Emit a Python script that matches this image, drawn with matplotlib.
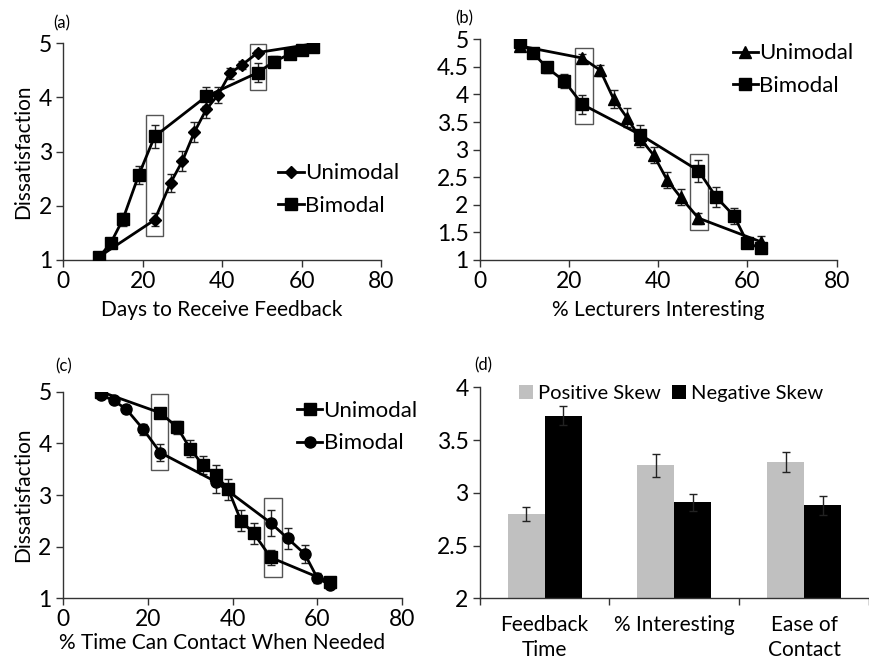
import matplotlib
matplotlib.use("Agg")
import matplotlib.pyplot as plt
from matplotlib.patches import Rectangle
from matplotlib.lines import Line2D
from matplotlib.ticker import FuncFormatter
import numpy as np

plt.rcParams['font.family'] = ['Lato', 'DejaVu Sans']

# ---------------- data ----------------
# Panel (a): Days to Receive Feedback
a_uni_x = [9, 23, 27, 30, 33, 36, 39, 42, 45, 49, 63]
a_uni_y = [1.06, 1.74, 2.42, 2.83, 3.36, 3.78, 4.05, 4.45, 4.60, 4.83, 4.99]
a_uni_e = [0.05, 0.12, 0.16, 0.18, 0.18, 0.16, 0.15, 0.10, 0.07, 0.05, 0.02]
a_bi_x = [9, 12, 15, 19, 23, 36, 49, 53, 57, 60, 63]
a_bi_y = [1.05, 1.32, 1.75, 2.57, 3.28, 4.02, 4.46, 4.66, 4.80, 4.88, 4.94]
a_bi_e = [0.05, 0.07, 0.12, 0.17, 0.21, 0.17, 0.18, 0.10, 0.07, 0.05, 0.03]
a_boxes = [(20.7, 25.2, 1.45, 3.68), (46.9, 51.0, 4.13, 4.99)]

# Panel (b): % Lecturers Interesting
b_uni_x = [9, 23, 27, 30, 33, 36, 39, 42, 45, 49, 63]
b_uni_y = [4.88, 4.66, 4.44, 3.92, 3.58, 3.20, 2.90, 2.45, 2.14, 1.76, 1.33]
b_uni_e = [0.05, 0.08, 0.10, 0.17, 0.17, 0.15, 0.15, 0.15, 0.15, 0.10, 0.10]
b_bi_x = [9, 12, 15, 19, 23, 36, 49, 53, 57, 60, 63]
b_bi_y = [4.96, 4.75, 4.49, 4.24, 3.82, 3.27, 2.62, 2.14, 1.80, 1.31, 1.21]
b_bi_e = [0.04, 0.05, 0.10, 0.13, 0.17, 0.17, 0.20, 0.18, 0.15, 0.07, 0.05]
b_boxes = [(21.4, 25.3, 3.47, 4.85), (47.1, 51.2, 1.54, 2.92)]

# Panel (c): % Time Can Contact When Needed
c_uni_x = [9, 23, 27, 30, 33, 36, 39, 42, 45, 49, 63]
c_uni_y = [5.00, 4.59, 4.31, 3.90, 3.58, 3.39, 3.11, 2.50, 2.26, 1.79, 1.31]
c_uni_e = [0.03, 0.07, 0.13, 0.17, 0.17, 0.20, 0.20, 0.20, 0.20, 0.15, 0.05]
c_bi_x = [9, 12, 15, 19, 23, 36, 49, 53, 57, 60, 63]
c_bi_y = [4.94, 4.83, 4.66, 4.27, 3.82, 3.26, 2.46, 2.16, 1.86, 1.39, 1.26]
c_bi_e = [0.03, 0.05, 0.07, 0.10, 0.17, 0.22, 0.25, 0.20, 0.18, 0.10, 0.05]
c_boxes = [(20.7, 24.9, 3.48, 4.95), (47.5, 51.6, 1.42, 2.94)]

# Panel (d): bars
d_categories = ["Feedback\nTime", "% Interesting", "Ease of\nContact"]
d_pos = [2.80, 3.26, 3.29]
d_pos_e = [0.07, 0.11, 0.095]
d_neg = [3.73, 2.91, 2.88]
d_neg_e = [0.09, 0.08, 0.09]

W, H = 869, 659
fig = plt.figure(figsize=(W / 100, H / 100), dpi=100)


def px_axes(l, r, t, b):
    return fig.add_axes([l / W, 1 - b / H, (r - l) / W, (b - t) / H])


FS = 14
fmt = FuncFormatter(lambda v, p: "%g" % v)


def style(ax):
    for s in ['top', 'right']:
        ax.spines[s].set_visible(False)
    for s in ['left', 'bottom']:
        ax.spines[s].set_linewidth(1.0)
        ax.spines[s].set_color('#333333')
    ax.tick_params(direction='out', length=5, width=1, labelsize=FS + 2.5, color='#333333', pad=3)
    ax.yaxis.set_major_formatter(fmt)


def line_panel(ax, ux, uy, ue, um, ums, bx, by, be, bm, bms, boxes, xlabel, ylabel,
               yticks, leg_xy, ulabel="Unimodal", blabel="Bimodal"):
    style(ax)
    ax.errorbar(ux, uy, yerr=ue, color='black', lw=2, marker=um, ms=ums,
                ecolor='#222222', elinewidth=1, capsize=3, capthick=1, zorder=3)
    ax.errorbar(bx, by, yerr=be, color='black', lw=2, marker=bm, ms=bms,
                ecolor='#222222', elinewidth=1, capsize=3, capthick=1, zorder=3)
    for (x0, x1, y0, y1) in boxes:
        ax.add_patch(Rectangle((x0, y0), x1 - x0, y1 - y0, fill=False,
                               edgecolor='#555555', lw=1.0, zorder=2))
    ax.set_xlim(0, 80)
    ax.set_ylim(yticks[0], yticks[-1])
    ax.set_xticks([0, 20, 40, 60, 80])
    ax.set_yticks(yticks)
    ax.set_xlabel(xlabel, fontsize=FS + 1, labelpad=6)
    if ylabel:
        ax.set_ylabel(ylabel, fontsize=FS + 1, labelpad=4)
    h = [Line2D([], [], color='black', lw=2, marker=um, ms=ums),
         Line2D([], [], color='black', lw=2, marker=bm, ms=bms)]
    ax.legend(h, [ulabel, blabel], loc='center left', bbox_to_anchor=leg_xy, frameon=False,
              fontsize=FS + 2, handlelength=1.15, handletextpad=0.05, borderpad=0,
              labelspacing=0.55)


# (a)
axa = px_axes(63.3, 381, 43.3, 260)
line_panel(axa, a_uni_x, a_uni_y, a_uni_e, 'D', 6, a_bi_x, a_bi_y, a_bi_e, 's', 9,
           a_boxes, "Days to Receive Feedback", "Dissatisfaction", [1, 2, 3, 4, 5],
           (0.641, 0.325))
fig.text(53 / W, 1 - 23 / H, "(a)", fontsize=12, va='center', ha='left')

# (b)
axb = px_axes(479.7, 836.7, 39.3, 260)
line_panel(axb, b_uni_x, b_uni_y, b_uni_e, '^', 8, b_bi_x, b_bi_y, b_bi_e, 's', 9,
           b_boxes, "% Lecturers Interesting", None, [1, 1.5, 2, 2.5, 3, 3.5, 4, 4.5, 5],
           (0.677, 0.863))
fig.text(455 / W, 1 - 18 / H, "(b)", fontsize=12, va='center', ha='left')

# (c)
axc = px_axes(62.7, 402.3, 391.7, 598.3)
line_panel(axc, c_uni_x, c_uni_y, c_uni_e, 's', 9, c_bi_x, c_bi_y, c_bi_e, 'o', 8,
           c_boxes, "% Time Can Contact When Needed", "Dissatisfaction", [1, 2, 3, 4, 5],
           (0.657, 0.828))
axc.xaxis.set_label_coords(0.469, -0.17)
fig.text(55 / W, 1 - 366 / H, "(c)", fontsize=12, va='center', ha='left')

# (d)
axd = px_axes(479.7, 869, 387.3, 598.3)
style(axd)
xc = np.arange(len(d_categories))
bw = 0.285
axd.bar(xc - bw / 2, np.array(d_pos) - 2, bw, bottom=2, color='#c0c0c0', label='Positive Skew',
        yerr=d_pos_e, error_kw=dict(ecolor='#222222', elinewidth=1, capsize=3, capthick=1))
axd.bar(xc + bw / 2, np.array(d_neg) - 2, bw, bottom=2, color='black', label='Negative Skew',
        yerr=d_neg_e, error_kw=dict(ecolor='#222222', elinewidth=1, capsize=3, capthick=1))
axd.set_ylim(2, 4)
axd.set_yticks([2, 2.5, 3, 3.5, 4])
axd.set_xlim(-0.5, -0.5 + (869 - 479.7) / 132.3)
axd.set_xticks([-0.5, 0.5, 1.5, 2.5])
axd.set_xticklabels([])
axd.set_xticks(xc, minor=True)
axd.set_xticklabels(d_categories, minor=True, fontsize=FS + 1, linespacing=1.3)
axd.tick_params(axis='x', which='minor', length=0, pad=12)
axd.legend(loc='center left', bbox_to_anchor=(0.075, 0.97), ncol=2, frameon=False,
           fontsize=FS + 0.5, handlelength=0.7, handleheight=0.7, handletextpad=0.25,
           columnspacing=0.55, borderpad=0)
fig.text(474 / W, 1 - 365 / H, "(d)", fontsize=12, va='center', ha='left')

fig.savefig("out.png", dpi=100)
